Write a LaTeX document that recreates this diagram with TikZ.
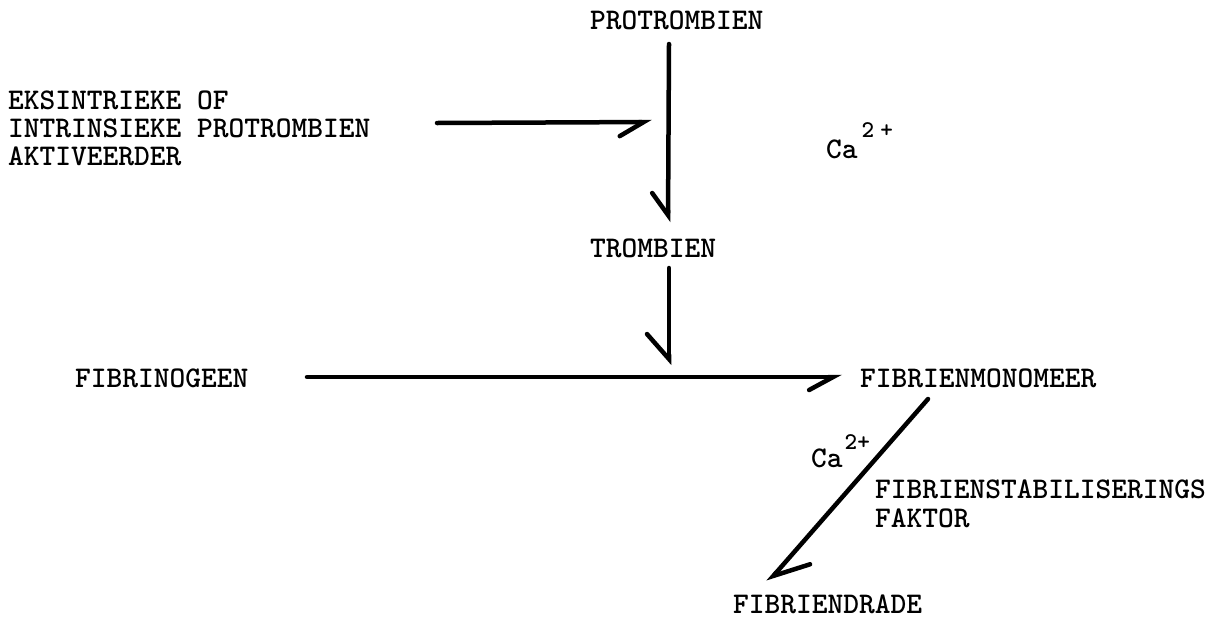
\documentclass[tikz,border=0pt]{standalone}
\usetikzlibrary{arrows.meta}
\begin{document}
\begin{tikzpicture}[x=1pt,y=-1pt,
  lbl/.style={inner sep=0pt, font=\fontsize{30}{28}\selectfont\ttfamily\bfseries},
  conn/.style={line width=4.5pt, line cap=round, line join=round},
  barbR/.style args={#1/#2}{-{Straight Barb[harpoon,swap,length=#1pt,width=#2pt,line cap=round]}},
  barbL/.style args={#1/#2}{-{Straight Barb[harpoon,length=#1pt,width=#2pt,line cap=round]}}
]
\useasboundingbox[fill=white] (0,0) rectangle (1228,619);
\newcommand{\supcharge}[2]{\raisebox{#1pt}{\fontsize{24}{24}\selectfont 2\hspace{#2pt}+}}
% labels
\node[lbl, anchor=base west] (protrombien) at (590,29) {PROTROMBIEN};
\node[lbl, anchor=west, align=left] (activator) at (8,128)
  {EKSINTRIEKE OF\\INTRINSIEKE PROTROMBIEN\\AKTIVEERDER};
\node[lbl, anchor=base west] (ca1) at (826,158) {Ca\hspace{4pt}\supcharge{21}{6}};
\node[lbl, anchor=base west] (trombien) at (590,257) {TROMBIEN};
\node[lbl, anchor=base west] (fibrinogeen) at (75,387) {FIBRINOGEEN};
\node[lbl, anchor=base west] (monomeer) at (860,387) {FIBRIENMONOMEER};
\node[lbl, anchor=base west] (ca2) at (811,467) {Ca\hspace{2pt}\supcharge{18}{0}};
\node[lbl, anchor=west, align=left, font=\fontsize{30}{29}\selectfont\ttfamily\bfseries] (fsf) at (875,504)
  {FIBRIENSTABILISERINGS\\FAKTOR};
\node[lbl, anchor=base west] (draad) at (733,613) {FIBRIENDRADE};
% connector ends
\coordinate (v1s) at (669,44);
\coordinate (v1e) at (668,222);
\coordinate (a1s) at (437,123);
\coordinate (a1e) at (652,122);
\coordinate (v2s) at (669,268);
\coordinate (v2e) at (669,365);
\coordinate (h2s) at (307,377);
\coordinate (h2e) at (842,377);
\coordinate (ds) at (928,399);
\coordinate (de) at (768,582);
% connectors
\draw[conn, barbR=22/32] (v1s) -- (v1e);
\draw[conn, barbR=24/28] (a1s) -- (a1e);
\draw[conn, barbR=25/44] (v2s) -- (v2e);
\draw[conn, barbR=24/26] (h2s) -- (h2e);
\draw[conn, barbL=33/40] (ds) -- (de);
\end{tikzpicture}
\end{document}
